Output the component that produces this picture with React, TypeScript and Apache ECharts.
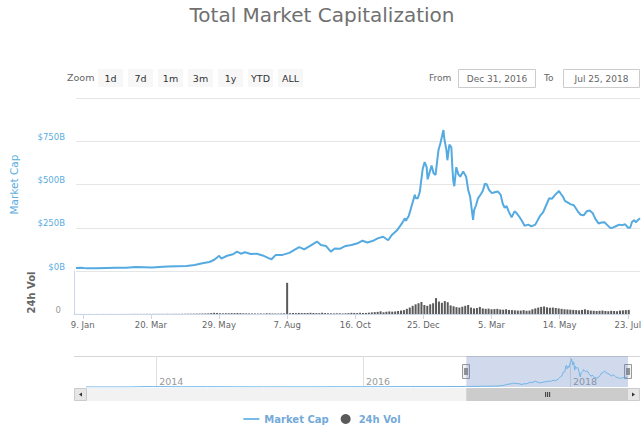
import React, { useEffect, useRef } from "react";
import * as echarts from "echarts";

// ---------- data ----------
const capDates = [
  "2016-12-31","2017-01-05","2017-01-11","2017-01-20","2017-01-31","2017-02-10","2017-02-20","2017-03-01","2017-03-10","2017-03-18",
  "2017-03-25","2017-04-03","2017-04-12","2017-04-22","2017-04-30","2017-05-08","2017-05-15","2017-05-20","2017-05-25","2017-05-27",
  "2017-06-02","2017-06-08","2017-06-12","2017-06-16","2017-06-20","2017-06-26","2017-07-02","2017-07-08","2017-07-15","2017-07-17",
  "2017-07-21","2017-07-28","2017-08-04","2017-08-10","2017-08-14","2017-08-19","2017-08-25","2017-09-01","2017-09-05","2017-09-10",
  "2017-09-15","2017-09-19","2017-09-24","2017-09-30","2017-10-06","2017-10-12","2017-10-17","2017-10-22","2017-10-28","2017-11-02",
  "2017-11-07","2017-11-12","2017-11-16","2017-11-21","2017-11-26","2017-11-29","2017-11-30","2017-12-03","2017-12-07","2017-12-09",
  "2017-12-10","2017-12-12","2017-12-14","2017-12-17","2017-12-19","2017-12-21","2017-12-22","2017-12-24","2017-12-26","2017-12-28",
  "2017-12-30","2018-01-02","2018-01-04","2018-01-07","2018-01-08","2018-01-10","2018-01-11","2018-01-13","2018-01-15","2018-01-16",
  "2018-01-17","2018-01-18","2018-01-20","2018-01-22","2018-01-24","2018-01-27","2018-01-30","2018-02-01","2018-02-03","2018-02-06",
  "2018-02-07","2018-02-09","2018-02-11","2018-02-14","2018-02-16","2018-02-18","2018-02-20","2018-02-22","2018-02-25","2018-02-28",
  "2018-03-03","2018-03-06","2018-03-08","2018-03-10","2018-03-12","2018-03-14","2018-03-17","2018-03-20","2018-03-22","2018-03-25",
  "2018-03-28","2018-03-30","2018-04-03","2018-04-06","2018-04-10","2018-04-13","2018-04-15","2018-04-18","2018-04-21","2018-04-24",
  "2018-04-27","2018-04-30","2018-05-04","2018-05-06","2018-05-08","2018-05-10","2018-05-13","2018-05-16","2018-05-19","2018-05-23",
  "2018-05-26","2018-05-29","2018-06-01","2018-06-04","2018-06-07","2018-06-10","2018-06-13","2018-06-16","2018-06-19","2018-06-22",
  "2018-06-25","2018-06-28","2018-07-01","2018-07-04","2018-07-07","2018-07-10","2018-07-13","2018-07-15","2018-07-17","2018-07-19",
  "2018-07-21","2018-07-23","2018-07-25",
];
const capValues = [
  17.7, 18.5, 15.2, 16.0, 17.4, 18.2, 19.0, 22.5, 21.5, 20.5,
  23.5, 25.5, 27.5, 29.5, 35, 45, 52, 65, 88, 72,
  88, 97, 112, 100, 108, 98, 100, 90, 72, 68,
  92, 93, 105, 125, 138, 125, 145, 170, 150, 145,
  112, 130, 128, 145, 150, 160, 175, 165, 175, 190,
  198, 178, 210, 235, 275, 305, 290, 320, 400, 440,
  420, 420, 455, 590, 630, 600, 530, 570, 610, 565,
  555, 700, 740, 815, 760, 700, 640, 730, 715, 600,
  520, 490, 600, 560, 545, 575, 545, 470, 430, 295,
  350, 380, 420, 445, 465, 505, 500, 470, 450, 455,
  460, 440, 390, 365, 375, 345, 310, 345, 335, 312,
  285, 262, 268, 258, 268, 300, 320, 340, 380, 420,
  418, 440, 462, 445, 430, 405, 395, 385, 380, 345,
  325, 322, 345, 350, 335, 300, 275, 280, 282, 265,
  248, 252, 260, 268, 265, 270, 250, 250, 285, 293,
  282, 295, 305,
];

// navigator history before the zoomed range
const preDates = [
  "2013-04-28","2013-07-01","2013-10-01","2013-11-30","2013-12-20","2014-02-01","2014-04-01","2014-07-01","2014-10-01",
  "2015-01-15","2015-04-01","2015-07-01","2015-11-05","2016-01-01","2016-03-01","2016-06-17","2016-09-01","2016-12-01",
];
const preValues = [1.5, 1.0, 1.6, 13, 9, 11, 6, 8, 5.5, 3.5, 3.8, 4.2, 6.5, 7, 7, 12.5, 11.5, 13];

// 24h volume ($B), one bar every 3 days starting 2016-12-31
const volStartDate = "2016-12-31";
const volStepDays = 3;
const volValues = [
  0.3, 0.2, 0.3, 0.2, 0.2, 0.3, 0.2, 0.2, 0.3, 0.2,
  0.3, 0.2, 0.3, 0.3, 0.2, 0.3, 0.3, 0.4, 0.3, 0.4,
  0.5, 0.6, 0.5, 0.7, 0.6, 0.8, 0.7, 0.6, 0.7, 0.8,
  0.8, 0.7, 0.9, 0.8, 0.9, 1.0, 0.9, 1.1, 1.2, 1.4,
  1.5, 1.8, 2.0, 1.9, 2.4, 2.6, 3.1, 4.2, 5.6, 4.8,
  3.5, 3.2, 3.6, 3.4, 4.1, 3.8, 4.5, 3.9, 3.2, 3.0,
  2.8, 2.6, 2.2, 2.0, 2.4, 2.1, 3.3, 2.9, 2.5, 2.3,
  2.2, 2.6, 3.0, 145, 3.8, 4.5, 4.2, 5.0, 4.4, 4.6,
  4.8, 5.5, 4.6, 4.0, 3.8, 5.9, 4.2, 3.5, 3.1, 2.9,
  3.2, 3.1, 2.6, 3.3, 4.0, 5.4, 5.1, 4.3, 5.8, 4.6,
  4.9, 6.2, 7.5, 8.8, 9.8, 12.5, 8.0, 10.5, 12.0, 10.8,
  12, 14, 16, 18, 24, 30, 38, 45, 50, 56,
  42, 38, 45, 50, 74, 58, 52, 60, 55, 40,
  36, 32, 30, 34, 38, 42, 30, 26, 28, 33,
  26, 24, 25, 22, 23, 24, 21, 20, 22, 19,
  18, 17, 16, 16, 18, 15, 16, 22, 26, 30,
  33, 35, 31, 29, 30, 28, 26, 24, 22, 21,
  20, 19, 18, 17, 19, 22, 18, 16, 15, 14,
  15, 16, 14, 13, 15, 14, 13, 16, 17, 18,
  19,
];

const tickDates = ["2017-01-09","2017-03-20","2017-05-29","2017-08-07","2017-10-16","2017-12-25","2018-03-05","2018-05-14","2018-07-23"];
const tickLabels = ["9. Jan","20. Mar","29. May","7. Aug","16. Oct","25. Dec","5. Mar","14. May","23. Jul"];
const navYearDates = ["2014-01-01","2016-01-01","2018-01-01"];
const navYearLabels = ["2014","2016","2018"];
const rangeButtons = ["1d","7d","1m","3m","1y","YTD","ALL"];
const fromDate = "2016-12-31";
const toDate = "2018-07-25";
const fromText = "Dec 31, 2016";
const toText = "Jul 25, 2018";
const navStartDate = "2013-04-28";

// ---------- helpers ----------
const EPOCH = Date.UTC(2016, 11, 31);
function dayOf(s: string): number {
  const [y, m, d] = s.split("-").map(Number);
  return Math.round((Date.UTC(y, m - 1, d) - EPOCH) / 86400000);
}

const FONT = "DejaVu Sans";
const BLUE = "#55aae1";
const AXIS_BLUE = "#5aade0";
// plain line legend icon (moveTo points widen the box so the stroke stays thin)
const LINE_ICON = "path://M0,0 M0,4.2 L16,4.2 L16,5.8 L0,5.8 Z M16,10";

export default function App() {
  const ref = useRef<HTMLDivElement>(null);

  useEffect(() => {
    if (!ref.current) return;
    const chart = echarts.init(ref.current, null, { renderer: "svg" });

    const capData = capDates.map((d, i) => [dayOf(d), capValues[i]]);
    const navData = preDates.map((d, i) => [dayOf(d), preValues[i]]).concat(capData);
    const volStart = dayOf(volStartDate);
    const volData = volValues.map((v, i) => [volStart + i * volStepDays, v]);
    const tickDays = tickDates.map(dayOf);
    const yearDays = navYearDates.map(dayOf);
    const xMin = dayOf(fromDate);
    const xMax = dayOf(toDate);
    const navMin = dayOf(navStartDate);

    const option: any = {
      animation: false,
      textStyle: { fontFamily: FONT },
      title: {
        text: "Total Market Capitalization",
        left: "center",
        top: 0,
        textStyle: { fontSize: 20, fontWeight: "normal", color: "#707070", fontFamily: FONT },
      },
      legend: {
        top: 409,
        left: "center",
        itemWidth: 16,
        itemHeight: 10,
        itemGap: 12,
        data: [{ name: "Market Cap", icon: LINE_ICON }, { name: "24h Vol", icon: "circle" }],
        textStyle: { fontSize: 10, fontWeight: "bold", color: "#74aad9", fontFamily: FONT },
      },
      grid: [
        { left: 74, right: 4, top: 98, height: 173 },
        { left: 74, right: 4, top: 271, height: 43 },
        { left: 86, right: 16, top: 356, height: 31 },
      ],
      xAxis: [
        { type: "value", gridIndex: 0, min: xMin, max: xMax, show: false },
        {
          type: "value",
          gridIndex: 1,
          min: xMin,
          max: xMax,
          axisLine: { show: true, lineStyle: { color: "#ccd6eb" } },
          axisTick: { show: true, customValues: tickDays, length: 5, lineStyle: { color: "#ccd6eb" } },
          axisLabel: {
            customValues: tickDays,
            formatter: (v: number) => {
              const i = tickDays.indexOf(Math.round(v));
              return i >= 0 ? tickLabels[i] : "";
            },
            fontSize: 8.5,
            color: "#666",
            margin: 6,
            fontFamily: FONT,
          },
          splitLine: { show: false },
        },
        {
          type: "value",
          gridIndex: 2,
          min: navMin,
          max: xMax,
          axisLine: { show: false },
          axisTick: { show: true, inside: true, length: 31, customValues: yearDays, lineStyle: { color: "#e0e0e0" } },
          axisLabel: {
            show: true,
            inside: true,
            customValues: yearDays,
            formatter: (v: number) => {
              const i = yearDays.indexOf(Math.round(v));
              return i >= 0 ? navYearLabels[i] : "";
            },
            align: "left",
            padding: [0, 0, 0, 3],
            color: "#999",
            fontSize: 9.5,
            margin: 1,
            fontFamily: FONT,
          },
          splitLine: { show: false },
        },
      ],
      yAxis: [
        {
          type: "value",
          gridIndex: 0,
          min: 0,
          max: 1000,
          interval: 250,
          axisLine: { show: false },
          axisTick: { show: false },
          axisLabel: {
            formatter: (v: number) => (v >= 1000 ? "" : "$" + v + "B"),
            color: AXIS_BLUE,
            fontSize: 8.5,
            verticalAlign: "bottom",
            margin: 11,
            fontFamily: FONT,
          },
          splitLine: { lineStyle: { color: "#e6e6e6" } },
          name: "Market Cap",
          nameLocation: "middle",
          nameGap: 57,
          nameTextStyle: { color: AXIS_BLUE, fontSize: 10.5, fontFamily: FONT },
        },
        {
          type: "value",
          gridIndex: 1,
          min: 0,
          max: 200,
          interval: 200,
          axisLine: { show: true, lineStyle: { color: "#ccd6eb" } },
          axisTick: { show: false },
          axisLabel: {
            formatter: (v: number) => (v === 0 ? "0" : ""),
            color: "#999",
            fontSize: 8.5,
            verticalAlign: "bottom",
            margin: 13,
            fontFamily: FONT,
          },
          splitLine: { show: false },
          name: "24h Vol",
          nameLocation: "middle",
          nameGap: 38,
          nameTextStyle: { color: "#666", fontSize: 10, fontWeight: "bold", fontFamily: FONT },
        },
        { type: "value", gridIndex: 2, min: 0, max: 900, show: false },
      ],
      series: [
        {
          name: "Market Cap",
          type: "line",
          xAxisIndex: 0,
          yAxisIndex: 0,
          data: capData,
          symbol: "none",
          color: BLUE,
          lineStyle: { width: 2, color: BLUE },
        },
        {
          name: "24h Vol",
          type: "bar",
          xAxisIndex: 1,
          yAxisIndex: 1,
          data: volData,
          barWidth: 2,
          color: "#5a5a5a",
          itemStyle: { color: "#5a5a5a" },
        },
        {
          name: "nav",
          type: "line",
          xAxisIndex: 2,
          yAxisIndex: 2,
          data: navData,
          symbol: "none",
          silent: true,
          lineStyle: { width: 1, color: "#6cb3e6" },
          areaStyle: { color: "rgba(108,179,230,0.06)" },
          markArea: {
            silent: true,
            itemStyle: { color: "rgba(102,133,194,0.3)" },
            data: [[{ xAxis: xMin }, { xAxis: xMax }]],
          },
        },
      ],
    };
    chart.setOption(option);

    // navigator / scrollbar decorations positioned from the navigator axis
    const sx = chart.convertToPixel({ xAxisIndex: 2 }, xMin) as number;
    const ex = chart.convertToPixel({ xAxisIndex: 2 }, xMax) as number;
    const navTop = 356;
    const sbTop = 388;
    const sbH = 13;
    const graphics: any[] = [];

    // range selector
    graphics.push({ type: "text", left: 67, top: 72, style: { text: "Zoom", fill: "#666", fontSize: 9.5, fontFamily: FONT } });
    rangeButtons.forEach((b, i) => {
      const x = 98 + i * 30;
      graphics.push({ type: "rect", shape: { x, y: 69, width: 25, height: 18 }, style: { fill: "#f7f7f7" } });
      graphics.push({
        type: "text",
        x: x + 12.5,
        y: 78,
        style: { text: b, fill: "#333", fontSize: 9.5, fontFamily: FONT, align: "center", verticalAlign: "middle" },
      });
    });
    graphics.push({ type: "text", x: 429, y: 78, style: { text: "From", fill: "#666", fontSize: 9, fontFamily: FONT, verticalAlign: "middle" } });
    graphics.push({ type: "rect", shape: { x: 458.5, y: 69.5, width: 77, height: 18 }, style: { fill: "#fff", stroke: "#ccc", lineWidth: 1 } });
    graphics.push({ type: "text", x: 497, y: 78.5, style: { text: fromText, fill: "#666", fontSize: 9, fontFamily: FONT, align: "center", verticalAlign: "middle" } });
    graphics.push({ type: "text", x: 544, y: 78, style: { text: "To", fill: "#666", fontSize: 9, fontFamily: FONT, verticalAlign: "middle" } });
    graphics.push({ type: "rect", shape: { x: 563.5, y: 69.5, width: 76, height: 18 }, style: { fill: "#fff", stroke: "#ccc", lineWidth: 1 } });
    graphics.push({ type: "text", x: 601.5, y: 78.5, style: { text: toText, fill: "#666", fontSize: 9, fontFamily: FONT, align: "center", verticalAlign: "middle" } });

    // navigator outline
    graphics.push({ type: "line", shape: { x1: 74, y1: navTop + 0.5, x2: 640, y2: navTop + 0.5 }, style: { stroke: "#d6d6d6", lineWidth: 1 } });

    // scrollbar
    graphics.push({ type: "rect", shape: { x: 74, y: sbTop, width: 566, height: sbH }, style: { fill: "#f2f2f2" } });
    graphics.push({ type: "rect", shape: { x: sx, y: sbTop, width: ex - sx, height: sbH }, style: { fill: "#cccccc" } });
    const gc = (sx + ex) / 2;
    [-2, 0, 2].forEach((o) =>
      graphics.push({ type: "line", shape: { x1: gc + o + 0.5, y1: sbTop + 4, x2: gc + o + 0.5, y2: sbTop + 9 }, style: { stroke: "#333", lineWidth: 1 } })
    );
    graphics.push({ type: "rect", shape: { x: 74.5, y: sbTop + 0.5, width: 12, height: sbH - 1 }, style: { fill: "#e6e6e6", stroke: "#ccc", lineWidth: 1 } });
    graphics.push({ type: "polygon", shape: { points: [[79, sbTop + 6.5], [82, sbTop + 4.5], [82, sbTop + 8.5]] }, style: { fill: "#333" } });
    graphics.push({ type: "rect", shape: { x: 627.5, y: sbTop + 0.5, width: 12, height: sbH - 1 }, style: { fill: "#e6e6e6", stroke: "#ccc", lineWidth: 1 } });
    graphics.push({ type: "polygon", shape: { points: [[635, sbTop + 6.5], [632, sbTop + 4.5], [632, sbTop + 8.5]] }, style: { fill: "#333" } });

    // navigator handles
    [sx, ex].forEach((hx) => {
      const x = Math.round(hx) - 3.5;
      graphics.push({ type: "rect", shape: { x, y: 364.5, width: 7, height: 14 }, style: { fill: "#f2f2f2", stroke: "#999", lineWidth: 1 } });
      graphics.push({ type: "line", shape: { x1: x + 2.5, y1: 368, x2: x + 2.5, y2: 375 }, style: { stroke: "#333", lineWidth: 1 } });
      graphics.push({ type: "line", shape: { x1: x + 4.5, y1: 368, x2: x + 4.5, y2: 375 }, style: { stroke: "#333", lineWidth: 1 } });
    });

    chart.setOption({ graphic: graphics });

    return () => chart.dispose();
  }, []);

  return (
    <div
      ref={ref}
      style={{ position: "fixed", left: 0, top: 0, width: 644, height: 434, background: "#fff" }}
    />
  );
}
